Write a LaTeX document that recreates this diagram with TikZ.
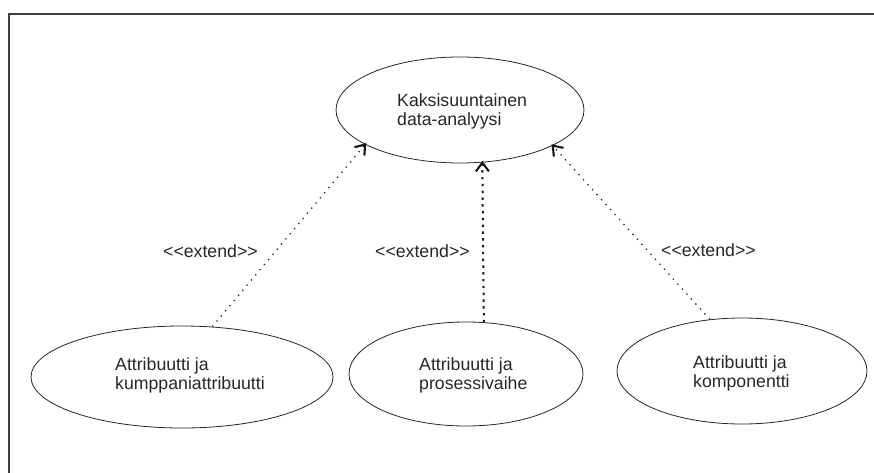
\documentclass[tikz,border=0pt]{standalone}
\usepackage{fontspec}
\setmainfont{Liberation Sans}
\usetikzlibrary{shapes.geometric,calc}
\begin{document}
\begin{tikzpicture}[x=1pt,y=-1pt,
  usecase/.style={ellipse, draw=black!85, line width=0.8pt, inner sep=0pt},
  uctext/.style={anchor=west, align=left, inner sep=0pt, text=black!85,
    font=\fontsize{17.7}{18.5}\selectfont},
  stereo/.style={anchor=base west, inner sep=0pt, text=black!85,
    font=\fontsize{17.7}{18.5}\selectfont},
  extendthin/.style={draw=black!85, line width=1.3pt, dash pattern=on 1.3pt off 5.4pt},
  extendbold/.style={draw=black!90, line width=2pt, dash pattern=on 2.4pt off 4.4pt},
  barbline/.style={draw=black!90, line width=2.1pt, line join=miter, line cap=butt},
  frame/.style={draw=black!75, line width=1.2pt}]
\useasboundingbox (0,0) rectangle (874,473);

% outer frame (top and left edges)
\draw[frame] (9,473) -- (9,14) -- (874,14);

% use cases
\node[usecase, minimum width=248pt, minimum height=106pt] (kda) at (460,110) {};
\node[usecase, minimum width=302pt, minimum height=102pt] (akp) at (182,377) {};
\node[usecase, minimum width=234pt, minimum height=104pt] (apv) at (466,374) {};
\node[usecase, minimum width=250pt, minimum height=106pt] (akm) at (742,371) {};

\node[uctext] (kdaT) at (397,111.3) {Kaksisuuntainen\\data-analyysi};
\node[uctext] (akpT) at (115,375.3) {Attribuutti ja\\kumppaniattribuutti};
\node[uctext] (apvT) at (419,375.3) {Attribuutti ja\\prosessivaihe};
\node[uctext] (akmT) at (693,373.6) {Attribuutti ja\\komponentti};

% extend relations: dotted shaft ending in an open barb
\draw[extendthin] (akp.59) -- (kda.200.8);
\draw[barbline] ($(kda.200.8)!11pt!36:(akp.59)$) -- (kda.200.8) -- ($(kda.200.8)!11pt!-36:(akp.59)$);

\draw[extendbold] (apv.71.7) -- (kda.293.8);
\draw[barbline] ($(kda.293.8)!11pt!36:(apv.71.7)$) -- (kda.293.8) -- ($(kda.293.8)!11pt!-36:(apv.71.7)$);

\draw[extendthin] (akm.122) -- (kda.339.4);
\draw[barbline] ($(kda.339.4)!11pt!36:(akm.122)$) -- (kda.339.4) -- ($(kda.339.4)!11pt!-36:(akm.122)$);

\node[stereo] (ext1) at (163,257.7) {<{}<extend>{}>};
\node[stereo] (ext2) at (375,257.5) {<{}<extend>{}>};
\node[stereo] (ext3) at (661,256.7) {<{}<extend>{}>};
\end{tikzpicture}
\end{document}
